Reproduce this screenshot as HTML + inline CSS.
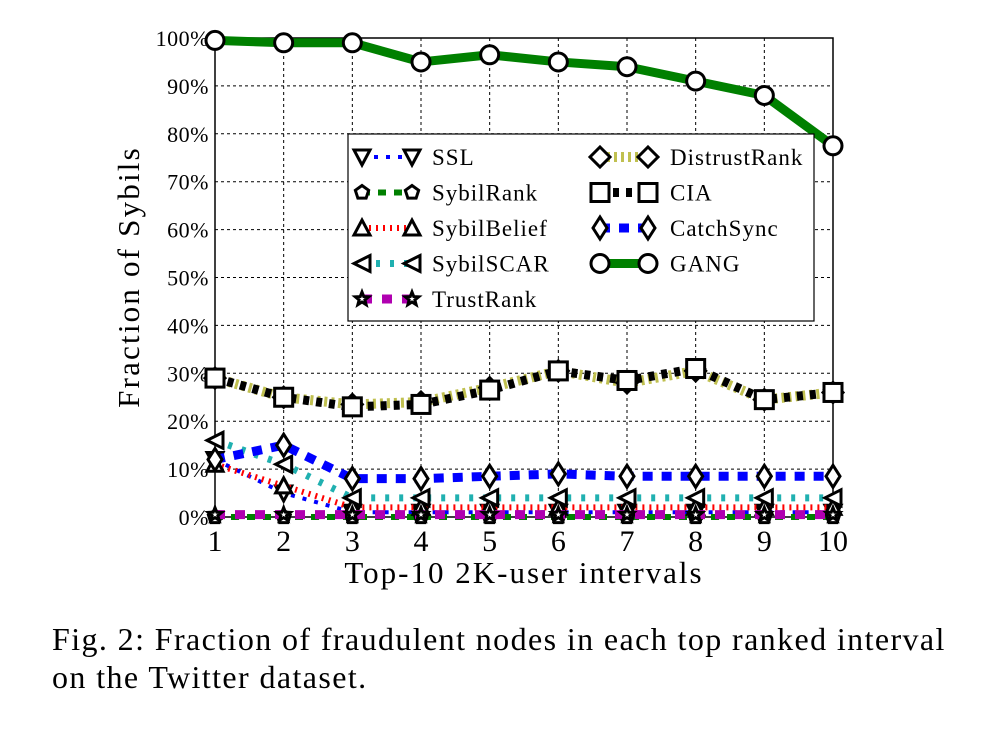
<!DOCTYPE html>
<html><head><meta charset="utf-8"><style>
body{margin:0;background:#fff;width:989px;height:736px;overflow:hidden}
svg text{font-family:"Liberation Serif",serif;fill:#000}
.cap{position:absolute;left:52px;top:620px;font:32px "Liberation Serif",serif;line-height:38px;letter-spacing:1.4px;white-space:nowrap}
</style></head><body>
<svg id="chart" width="989" height="600" style="position:absolute;left:0;top:0"></svg>
<div class="cap">Fig. 2: Fraction of fraudulent nodes in each top ranked interval<br>on the Twitter dataset.</div>
<script>
const categories=[1,2,3,4,5,6,7,8,9,10];
const yTicks=[0,10,20,30,40,50,60,70,80,90,100];
const ssl=[12,5,1,1,1,1,1,1,1,1];
const sybilRank=[0,0,0,0,0,0,0,0,0,0];
const sybilBelief=[11,6.5,2,2,2,2,2,2,2,2];
const sybilScar=[16,11,4,4,4,4,4,4,4,4];
const trustRank=[0.5,0.5,0.5,0.5,0.5,0.5,0.5,0.5,0.5,0.5];
const distrustRank=[29,25,23.5,24,27,30.5,28,30.5,24.5,26];
const cia=[29,25,23,23.5,26.5,30.5,28.5,31,24.5,26];
const catchSync=[12,15,8,8,8.5,9,8.5,8.5,8.5,8.5];
const gang=[99.5,99,99,95,96.5,95,94,91,88,77.5];
const L=215,R=833,T=38,B=517;
const X=v=>L+(v-1)*(R-L)/9, Y=v=>B-v*(B-T)/100;
const svg=document.getElementById('chart');
const NS='http://www.w3.org/2000/svg';
function mk(tag,a,p){const e=document.createElementNS(NS,tag);for(const k in a)e.setAttribute(k,a[k]);(p||svg).appendChild(e);return e;}
categories.forEach(c=>{const l=mk('line',{x1:X(c),x2:X(c),y1:T,y2:B,stroke:'#000','stroke-width':1,'stroke-dasharray':'3,3'});

const t=mk('text',{x:X(c),y:B+34,'text-anchor':'middle','font-size':30});t.textContent=c;
});
yTicks.forEach(v=>{const l=mk('line',{x1:L,x2:R,y1:Y(v),y2:Y(v),stroke:'#000','stroke-width':1,'stroke-dasharray':'3,3'});

const t=mk('text',{x:L-6,y:Y(v)+8,'text-anchor':'end','font-size':22,'letter-spacing':0.5});t.textContent=v+'%';
});
const fr=mk('rect',{x:L,y:T,width:R-L,height:B-T,fill:'none',stroke:'#000','stroke-width':1.5});

let t=mk('text',{x:(L+R)/2,y:583,'text-anchor':'middle','font-size':31,'letter-spacing':2});t.textContent='Top-10 2K-user intervals';

t=mk('text',{x:0,y:0,'text-anchor':'middle','font-size':31,'letter-spacing':2.2,transform:'translate(139,277) rotate(-90)'});t.textContent='Fraction of Sybils';

function marker(g,type,x,y){const a={fill:'#fff',stroke:'#000','stroke-width':3};let e;
 if(type==='v')e=mk('polygon',Object.assign({points:`${x-8},${y-7} ${x+8},${y-7} ${x},${y+8}`},a),g);
 else if(type==='^')e=mk('polygon',Object.assign({points:`${x-8},${y+7} ${x+8},${y+7} ${x},${y-8}`},a),g);
 else if(type==='<')e=mk('polygon',Object.assign({points:`${x+8},${y-8} ${x+8},${y+8} ${x-8},${y}`},a),g);
 else if(type==='p'){let p=[];for(let i=0;i<5;i++){const an=-Math.PI/2+i*2*Math.PI/5;p.push((x+7*Math.cos(an))+','+(y+7*Math.sin(an)));}e=mk('polygon',Object.assign({points:p.join(' ')},a),g);}
 else if(type==='*'){let p=[];for(let i=0;i<10;i++){const an=-Math.PI/2+i*Math.PI/5,r=i%2?3:7;p.push((x+r*Math.cos(an))+','+(y+r*Math.sin(an)));}e=mk('polygon',Object.assign({points:p.join(' ')},a),g);}
 else if(type==='D')e=mk('polygon',Object.assign({points:`${x},${y-10} ${x+10},${y} ${x},${y+10} ${x-10},${y}`},a),g);
 else if(type==='d')e=mk('polygon',Object.assign({points:`${x},${y-11} ${x+7},${y} ${x},${y+11} ${x-7},${y}`},a),g);
 else if(type==='s')e=mk('rect',Object.assign({x:x-9,y:y-9,width:18,height:18},a),g);
 else if(type==='o')e=mk('circle',Object.assign({cx:x,cy:y,r:9},a),g);
 }
const series=[
 {n:'SSL',d:ssl,c:'#0000ff',w:4,da:'4,8',m:'v'},
 {n:'SybilRank',d:sybilRank,c:'#008000',w:6,da:'8,8',m:'p'},
 {n:'SybilBelief',d:sybilBelief,c:'#ff0000',w:6,da:'2,5',m:'^'},
 {n:'SybilSCAR',d:sybilScar,c:'#20b0b0',w:7,da:'4,10',m:'<'},
 {n:'TrustRank',d:trustRank,c:'#b000b0',w:9,da:'10,10',m:'*'},
 {n:'DistrustRank',d:distrustRank,c:'#c0c050',w:10,da:'3,4',m:'D'},
 {n:'CIA',d:cia,c:'#000',w:9,da:'6,7',m:'s'},
 {n:'CatchSync',d:catchSync,c:'#0000ff',w:9,da:'10,9',m:'d'},
 {n:'GANG',d:gang,c:'#008000',w:9,da:'',m:'o'}];
series.forEach(s=>{const g=mk('g',{});
 const p=mk('polyline',{points:s.d.map((v,i)=>X(categories[i])+','+Y(v)).join(' '),fill:'none',stroke:s.c,'stroke-width':s.w,'stroke-dasharray':s.da},g);
 
 s.d.forEach((v,i)=>marker(g,s.m,X(categories[i]),Y(v)));});
const lg=mk('g',{});
mk('rect',{x:348,y:134,width:466,height:187,fill:'#fff',stroke:'#000','stroke-width':1.2},lg);
series.forEach((s,i)=>{const col=i<5?0:1,row=i<5?i:i-5;const y=157+row*35.5,x0=col?600:362,x1=col?648:412;
 const e=mk('g',{},lg);
 mk('line',{x1:x0,x2:x1,y1:y,y2:y,stroke:s.c,'stroke-width':s.w,'stroke-dasharray':s.da},e);
 marker(e,s.m,x0,y);marker(e,s.m,x1,y);
 const t=mk('text',{x:col?670:432,y:y+8,'font-size':23,'letter-spacing':1},e);t.textContent=s.n;});
</script>
</body></html>
